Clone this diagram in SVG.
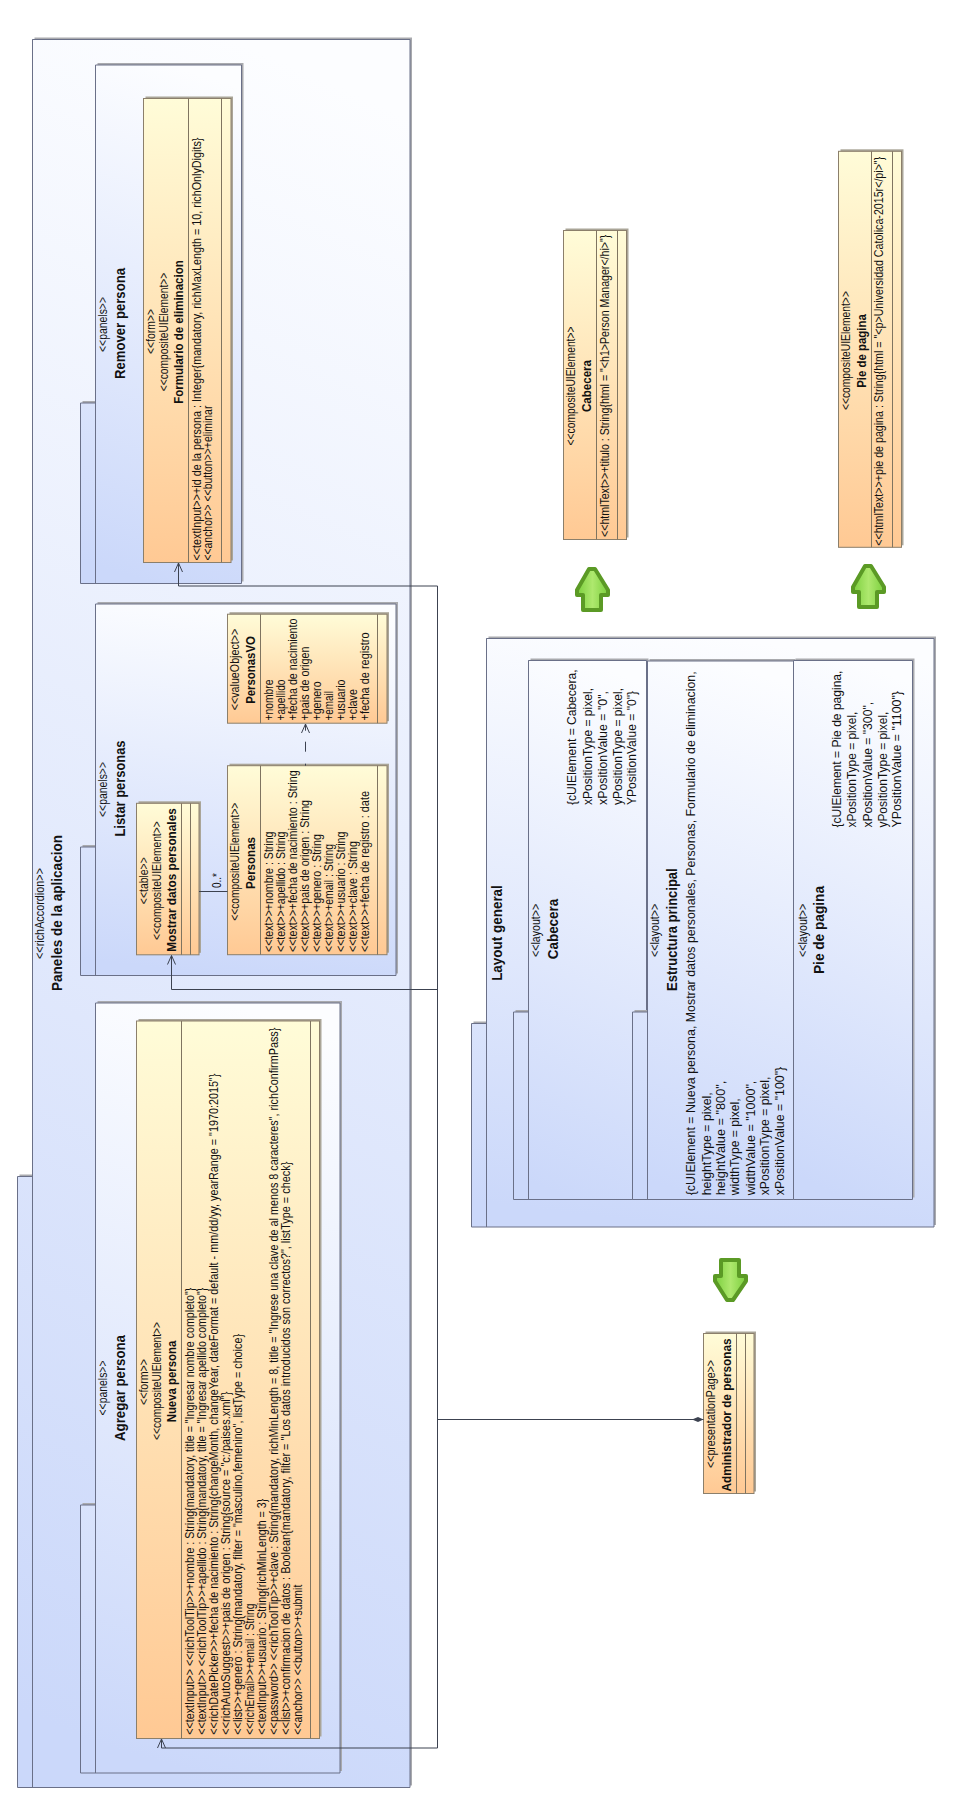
<svg xmlns="http://www.w3.org/2000/svg" width="968" height="1804" viewBox="0 0 968 1804">
<style>
text{font-family:"Liberation Sans",Arial,sans-serif;fill:#111}
.t{font-size:12px}
.m{font-size:12px;text-anchor:middle}
.b{font-size:12.5px;font-weight:bold;text-anchor:middle}
.h{font-size:14px;font-weight:bold;text-anchor:middle}
.l{font-size:13px}
.lm{font-size:12px;text-anchor:middle}
.sh{fill:#a9aaae}
.shc{fill:#aaa598}
.p{fill:url(#pg);stroke:#6a7088;stroke-width:1}
.d{fill:none;stroke:#6a7088;stroke-width:1}
.c{fill:url(#cg);stroke:#8b7f6b;stroke-width:1}
.dc{fill:none;stroke:#7f7460;stroke-width:1}
.g{fill:url(#gg);stroke:#5b9a25;stroke-width:4;stroke-linejoin:round}
.cn{fill:none;stroke:#3c4250;stroke-width:1}
</style>
<defs>
<linearGradient id="pg" x1="0.55" y1="0" x2="0.45" y2="1"><stop offset="0" stop-color="#fcfdff"/><stop offset="1" stop-color="#cbd8fa"/></linearGradient>
<linearGradient id="cg" x1="0" y1="0" x2="0" y2="1"><stop offset="0" stop-color="#fffcd8"/><stop offset="1" stop-color="#ffc994"/></linearGradient>
<linearGradient id="gg" x1="0" y1="0" x2="1" y2="0"><stop offset="0" stop-color="#7ccf3e"/><stop offset="0.5" stop-color="#aee86e"/><stop offset="1" stop-color="#7ccf3e"/></linearGradient>
<marker id="open" markerWidth="12" markerHeight="12" refX="10" refY="5" orient="auto" markerUnits="userSpaceOnUse"><path d="M1 1L10 5L1 9" fill="none" stroke="#3c4250" stroke-width="1"/></marker>
<marker id="dia" markerWidth="14" markerHeight="8" refX="0.5" refY="4" orient="auto" markerUnits="userSpaceOnUse"><path d="M0.5 4L6 1.5L12 4L6 6.5Z" fill="#3c4250"/></marker>
</defs>
<rect width="968" height="1804" fill="#fff"/>

<g id="panel-acordeon">
<path class="sh" transform="translate(2,-2)" d="M32.5 39.5H410V1787.5H17.5V1176.5H32.5Z"/>
<path class="p" d="M32.5 39.5H410V1787.5H17.5V1176.5H32.5Z"/>
<path class="d" d="M32.5 39.5V1787.5"/>
<text class="m" transform="translate(44 913.5) rotate(-90)" textLength="91" lengthAdjust="spacingAndGlyphs">&lt;&lt;richAccordion&gt;&gt;</text>
<text class="h" transform="translate(62 913) rotate(-90)" textLength="156" lengthAdjust="spacingAndGlyphs">Paneles de la aplicacion</text>
</g>

<g id="panel-remover">
<path class="sh" transform="translate(2,-2)" d="M95.5 65H241.5V583.5H80.5V403H95.5Z"/>
<path class="p" d="M95.5 65H241.5V583.5H80.5V403H95.5Z"/>
<path class="d" d="M95.5 65V583.5"/>
<text class="m" transform="translate(107 324.5) rotate(-90)" textLength="55" lengthAdjust="spacingAndGlyphs">&lt;&lt;panels&gt;&gt;</text>
<text class="h" transform="translate(125 323.5) rotate(-90)" textLength="111" lengthAdjust="spacingAndGlyphs">Remover persona</text>
</g>
<g id="class-formulario">
<rect class="shc" x="145.5" y="96.5" width="87.5" height="464"/>
<rect class="c" x="143.5" y="98.5" width="87.5" height="464"/>
<path class="dc" d="M188.5 98.5V562.5M221.5 98.5V562.5"/>
<text class="m" transform="translate(155 331.5) rotate(-90)" textLength="45" lengthAdjust="spacingAndGlyphs">&lt;&lt;form&gt;&gt;</text>
<text class="m" transform="translate(167.5 332) rotate(-90)" textLength="118.6" lengthAdjust="spacingAndGlyphs">&lt;&lt;compositeUIElement&gt;&gt;</text>
<text class="b" transform="translate(183 332) rotate(-90)" textLength="143.5" lengthAdjust="spacingAndGlyphs">Formulario de eliminacion</text>
<text class="t" transform="translate(201 560.6) rotate(-90)" textLength="423" lengthAdjust="spacingAndGlyphs">&lt;&lt;textInput&gt;&gt;+id de la persona : Integer{mandatory, richMaxLength = 10, richOnlyDigits}</text>
<text class="t" transform="translate(212 560.6) rotate(-90)" textLength="155" lengthAdjust="spacingAndGlyphs">&lt;&lt;anchor&gt;&gt; &lt;&lt;button&gt;&gt;+eliminar</text>
</g>

<g id="panel-listar">
<path class="sh" transform="translate(2,-2)" d="M95.5 604H396V975.5H80.5V847H95.5Z"/>
<path class="p" d="M95.5 604H396V975.5H80.5V847H95.5Z"/>
<path class="d" d="M95.5 604V975.5"/>
<text class="m" transform="translate(107 789.5) rotate(-90)" textLength="55" lengthAdjust="spacingAndGlyphs">&lt;&lt;panels&gt;&gt;</text>
<text class="h" transform="translate(125 788.5) rotate(-90)" textLength="96" lengthAdjust="spacingAndGlyphs">Listar personas</text>
</g>
<g id="class-mostrar">
<rect class="shc" x="138.5" y="801.3" width="62.5" height="151.5"/>
<rect class="c" x="136.5" y="803.3" width="62.5" height="151.5"/>
<path class="dc" d="M181.5 803.3V954.8M190.5 803.3V954.8"/>
<text class="m" transform="translate(148 880.7) rotate(-90)" textLength="47" lengthAdjust="spacingAndGlyphs">&lt;&lt;table&gt;&gt;</text>
<text class="m" transform="translate(160.7 880.6) rotate(-90)" textLength="118.6" lengthAdjust="spacingAndGlyphs">&lt;&lt;compositeUIElement&gt;&gt;</text>
<text class="b" transform="translate(176 880) rotate(-90)" textLength="143.5" lengthAdjust="spacingAndGlyphs">Mostrar datos personales</text>
</g>
<g id="class-personas">
<rect class="shc" x="229.5" y="763.7" width="159.5" height="189"/>
<rect class="c" x="227.5" y="765.7" width="159.5" height="189"/>
<path class="dc" d="M260.5 765.7V954.7M377.5 765.7V954.7"/>
<text class="m" transform="translate(239 861.7) rotate(-90)" textLength="118" lengthAdjust="spacingAndGlyphs">&lt;&lt;compositeUIElement&gt;&gt;</text>
<text class="b" transform="translate(255 863) rotate(-90)" textLength="52" lengthAdjust="spacingAndGlyphs">Personas</text>
<text class="t" transform="translate(273.3 952) rotate(-90)" textLength="120.5" lengthAdjust="spacingAndGlyphs">&lt;&lt;text&gt;&gt;+nombre : String</text>
<text class="t" transform="translate(285.3 952) rotate(-90)" textLength="120.5" lengthAdjust="spacingAndGlyphs">&lt;&lt;text&gt;&gt;+apellido : String</text>
<text class="t" transform="translate(297.3 952) rotate(-90)" textLength="181.7" lengthAdjust="spacingAndGlyphs">&lt;&lt;text&gt;&gt;+fecha de nacimiento : String</text>
<text class="t" transform="translate(309.3 952) rotate(-90)" textLength="152" lengthAdjust="spacingAndGlyphs">&lt;&lt;text&gt;&gt;+pais de origen : String</text>
<text class="t" transform="translate(321.3 952) rotate(-90)" textLength="117.8" lengthAdjust="spacingAndGlyphs">&lt;&lt;text&gt;&gt;+genero : String</text>
<text class="t" transform="translate(333.3 952) rotate(-90)" textLength="108" lengthAdjust="spacingAndGlyphs">&lt;&lt;text&gt;&gt;+email : String</text>
<text class="t" transform="translate(345.3 952) rotate(-90)" textLength="120.5" lengthAdjust="spacingAndGlyphs">&lt;&lt;text&gt;&gt;+usuario : String</text>
<text class="t" transform="translate(357.3 952) rotate(-90)" textLength="111" lengthAdjust="spacingAndGlyphs">&lt;&lt;text&gt;&gt;+clave : String</text>
<text class="t" transform="translate(369.3 952) rotate(-90)" textLength="161" lengthAdjust="spacingAndGlyphs">&lt;&lt;text&gt;&gt;+fecha de registro : date</text>
</g>
<g id="class-personasvo">
<rect class="shc" x="229.5" y="612.2" width="159.5" height="109"/>
<rect class="c" x="227.5" y="614.2" width="159.5" height="109"/>
<path class="dc" d="M260.5 614.2V723.2M377.5 614.2V723.2"/>
<text class="m" transform="translate(238.7 669.5) rotate(-90)" textLength="81.5" lengthAdjust="spacingAndGlyphs">&lt;&lt;valueObject&gt;&gt;</text>
<text class="b" transform="translate(255 670) rotate(-90)" textLength="67.7" lengthAdjust="spacingAndGlyphs">PersonasVO</text>
<text class="t" transform="translate(273.3 720.5) rotate(-90)" textLength="41" lengthAdjust="spacingAndGlyphs">+nombre</text>
<text class="t" transform="translate(285.3 720.5) rotate(-90)" textLength="41" lengthAdjust="spacingAndGlyphs">+apellido</text>
<text class="t" transform="translate(297.3 720.5) rotate(-90)" textLength="102" lengthAdjust="spacingAndGlyphs">+fecha de nacimiento</text>
<text class="t" transform="translate(309.3 720.5) rotate(-90)" textLength="74" lengthAdjust="spacingAndGlyphs">+pais de origen</text>
<text class="t" transform="translate(321.3 720.5) rotate(-90)" textLength="39" lengthAdjust="spacingAndGlyphs">+genero</text>
<text class="t" transform="translate(333.3 720.5) rotate(-90)" textLength="29.5" lengthAdjust="spacingAndGlyphs">+email</text>
<text class="t" transform="translate(345.3 720.5) rotate(-90)" textLength="41" lengthAdjust="spacingAndGlyphs">+usuario</text>
<text class="t" transform="translate(357.3 720.5) rotate(-90)" textLength="31.5" lengthAdjust="spacingAndGlyphs">+clave</text>
<text class="t" transform="translate(369.3 720.5) rotate(-90)" textLength="88" lengthAdjust="spacingAndGlyphs">+fecha de registro</text>
</g>

<g id="panel-agregar">
<path class="sh" transform="translate(2,-2)" d="M95.5 1003H340V1773H80.5V1505H95.5Z"/>
<path class="p" d="M95.5 1003H340V1773H80.5V1505H95.5Z"/>
<path class="d" d="M95.5 1003V1773"/>
<text class="m" transform="translate(107 1388) rotate(-90)" textLength="55" lengthAdjust="spacingAndGlyphs">&lt;&lt;panels&gt;&gt;</text>
<text class="h" transform="translate(125 1388) rotate(-90)" textLength="106" lengthAdjust="spacingAndGlyphs">Agregar persona</text>
</g>
<g id="class-nueva">
<rect class="shc" x="138.5" y="1019" width="183" height="717.5"/>
<rect class="c" x="136.5" y="1021" width="183" height="717.5"/>
<path class="dc" d="M181.5 1021V1738.5M310.5 1021V1738.5"/>
<text class="m" transform="translate(147.7 1382) rotate(-90)" textLength="46" lengthAdjust="spacingAndGlyphs">&lt;&lt;form&gt;&gt;</text>
<text class="m" transform="translate(160.7 1381) rotate(-90)" textLength="118" lengthAdjust="spacingAndGlyphs">&lt;&lt;compositeUIElement&gt;&gt;</text>
<text class="b" transform="translate(175.7 1381.5) rotate(-90)" textLength="81.6" lengthAdjust="spacingAndGlyphs">Nueva persona</text>
<text class="t" transform="translate(194 1734.7) rotate(-90)" textLength="447" lengthAdjust="spacingAndGlyphs">&lt;&lt;textInput&gt;&gt; &lt;&lt;richToolTip&gt;&gt;+nombre : String{mandatory, title = "Ingresar nombre completo"}</text>
<text class="t" transform="translate(206 1734.7) rotate(-90)" textLength="447" lengthAdjust="spacingAndGlyphs">&lt;&lt;textInput&gt;&gt; &lt;&lt;richToolTip&gt;&gt;+apellido : String{mandatory, title = "Ingresar apellido completo"}</text>
<text class="t" transform="translate(218 1734.7) rotate(-90)" textLength="661" lengthAdjust="spacingAndGlyphs">&lt;&lt;richDatePicker&gt;&gt;+fecha de nacimiento : String{changeMonth, changeYear, dateFormat = default - mm/dd/yy, yearRange = "1970:2015"}</text>
<text class="t" transform="translate(230 1734.7) rotate(-90)" textLength="343" lengthAdjust="spacingAndGlyphs">&lt;&lt;richAutoSuggest&gt;&gt;+pais de origen : String{source = "c:/paises.xml"}</text>
<text class="t" transform="translate(242 1734.7) rotate(-90)" textLength="400.7" lengthAdjust="spacingAndGlyphs">&lt;&lt;list&gt;&gt;+genero : String{mandatory, filter = "masculino,femenino", listType = choice}</text>
<text class="t" transform="translate(254 1734.7) rotate(-90)" textLength="131" lengthAdjust="spacingAndGlyphs">&lt;&lt;richEmail&gt;&gt;+email : String</text>
<text class="t" transform="translate(266 1734.7) rotate(-90)" textLength="236" lengthAdjust="spacingAndGlyphs">&lt;&lt;textInput&gt;&gt;+usuario : String{richMinLength = 3}</text>
<text class="t" transform="translate(278 1734.7) rotate(-90)" textLength="707" lengthAdjust="spacingAndGlyphs">&lt;&lt;password&gt;&gt; &lt;&lt;richToolTip&gt;&gt;+clave : String{mandatory, richMinLength = 8, title = "Ingrese una clave de al menos 8 caracteres", richConfirmPass}</text>
<text class="t" transform="translate(290 1734.7) rotate(-90)" textLength="573" lengthAdjust="spacingAndGlyphs">&lt;&lt;list&gt;&gt;+confirmacion de datos : Boolean{mandatory, filter = "Los datos introducidos son correctos?", listType = check}</text>
<text class="t" transform="translate(302 1734.7) rotate(-90)" textLength="150" lengthAdjust="spacingAndGlyphs">&lt;&lt;anchor&gt;&gt; &lt;&lt;button&gt;&gt;+submit</text>
</g>

<g id="class-cabecera">
<rect class="shc" x="565.5" y="228.5" width="63" height="309"/>
<rect class="c" x="563.5" y="230.5" width="63" height="309"/>
<path class="dc" d="M596.5 230.5V539.5M617.5 230.5V539.5"/>
<text class="m" transform="translate(574.7 386) rotate(-90)" textLength="119" lengthAdjust="spacingAndGlyphs">&lt;&lt;compositeUIElement&gt;&gt;</text>
<text class="b" transform="translate(591.3 386) rotate(-90)" textLength="52" lengthAdjust="spacingAndGlyphs">Cabecera</text>
<text class="t" transform="translate(609 537) rotate(-90)" textLength="302.3" lengthAdjust="spacingAndGlyphs">&lt;&lt;htmlText&gt;&gt;+titulo : String{html = "&lt;h1&gt;Person Manager&lt;/hi&gt;"}</text>
</g>
<g id="class-pie">
<rect class="shc" x="840.5" y="149.3" width="63" height="396"/>
<rect class="c" x="838.5" y="151.3" width="63" height="396"/>
<path class="dc" d="M871.5 151.3V547.3M892.5 151.3V547.3"/>
<text class="m" transform="translate(850 350.6) rotate(-90)" textLength="119" lengthAdjust="spacingAndGlyphs">&lt;&lt;compositeUIElement&gt;&gt;</text>
<text class="b" transform="translate(865.7 351) rotate(-90)" textLength="73.5" lengthAdjust="spacingAndGlyphs">Pie de pagina</text>
<text class="t" transform="translate(883.3 545.8) rotate(-90)" textLength="389" lengthAdjust="spacingAndGlyphs">&lt;&lt;htmlText&gt;&gt;+pie de pagina : String{html = "&lt;p&gt;Universidad Catolica-2015r&lt;/pi&gt;"}</text>
</g>

<g id="flow-arrows">
<path class="g" d="M589 569H595L608 590V595L601 595V610H583V595L577 595V590Z"/>
<path class="g" d="M865 566H871L884 587V592L877 592V607H859V592L853 592V587Z"/>
<path class="g" d="M721 1260H739V1276L746 1276V1281L733 1300H727L715 1281V1276L721 1276Z"/>
</g>

<g id="panel-layout">
<path class="sh" transform="translate(2,-2)" d="M486.5 638.5H934V1227H471.5V1023.5H486.5Z"/>
<path class="p" d="M486.5 638.5H934V1227H471.5V1023.5H486.5Z"/>
<path class="d" d="M486.5 638.5V1227"/>
<text class="h" transform="translate(501.7 933) rotate(-90)" textLength="95.7" lengthAdjust="spacingAndGlyphs">Layout general</text>
</g>
<g id="layout-cabecera">
<path class="sh" transform="translate(2,-2)" d="M528.5 660.5H646.5V1199.5H513.5V1012H528.5Z"/>
<path class="p" d="M528.5 660.5H646.5V1199.5H513.5V1012H528.5Z"/>
<path class="d" d="M528.5 660.5V1199.5"/>
<text class="lm" transform="translate(540 930.4) rotate(-90)" textLength="53" lengthAdjust="spacingAndGlyphs">&lt;&lt;layout&gt;&gt;</text>
<text class="h" transform="translate(558.3 929) rotate(-90)" textLength="60.5" lengthAdjust="spacingAndGlyphs">Cabecera</text>
<text class="l" transform="translate(575.7 805) rotate(-90)" textLength="135.6" lengthAdjust="spacingAndGlyphs">{cUIElement = Cabecera,</text>
<text class="l" transform="translate(591.7 805) rotate(-90)" textLength="117" lengthAdjust="spacingAndGlyphs">xPositionType = pixel,</text>
<text class="l" transform="translate(606.7 805) rotate(-90)" textLength="114" lengthAdjust="spacingAndGlyphs">xPositionValue = "0",</text>
<text class="l" transform="translate(621.7 805) rotate(-90)" textLength="117" lengthAdjust="spacingAndGlyphs">yPositionType = pixel,</text>
<text class="l" transform="translate(635.7 805) rotate(-90)" textLength="114" lengthAdjust="spacingAndGlyphs">YPositionValue = "0"}</text>
</g>
<g id="layout-estructura">
<path class="sh" transform="translate(2,-2)" d="M647.5 661H793.5V1199.5H632.5V1012H647.5Z"/>
<path class="p" d="M647.5 661H793.5V1199.5H632.5V1012H647.5Z"/>
<path class="d" d="M647.5 661V1199.5"/>
<text class="lm" transform="translate(659.3 930.4) rotate(-90)" textLength="53" lengthAdjust="spacingAndGlyphs">&lt;&lt;layout&gt;&gt;</text>
<text class="h" transform="translate(676.7 929.6) rotate(-90)" textLength="122.6" lengthAdjust="spacingAndGlyphs">Estructura principal</text>
<text class="l" transform="translate(695 1195.3) rotate(-90)" textLength="524" lengthAdjust="spacingAndGlyphs">{cUIElement = Nueva persona, Mostrar datos personales, Personas, Formulario de eliminacion,</text>
<text class="l" transform="translate(710.7 1195.3) rotate(-90)" textLength="103" lengthAdjust="spacingAndGlyphs">heightType = pixel,</text>
<text class="l" transform="translate(725 1195.3) rotate(-90)" textLength="114.6" lengthAdjust="spacingAndGlyphs">heightValue = "800",</text>
<text class="l" transform="translate(739 1195.3) rotate(-90)" textLength="97" lengthAdjust="spacingAndGlyphs">widthType = pixel,</text>
<text class="l" transform="translate(755 1195.3) rotate(-90)" textLength="114.6" lengthAdjust="spacingAndGlyphs">widthValue = "1000",</text>
<text class="l" transform="translate(769.3 1195.3) rotate(-90)" textLength="118.6" lengthAdjust="spacingAndGlyphs">xPositionType = pixel,</text>
<text class="l" transform="translate(784 1195.3) rotate(-90)" textLength="128.5" lengthAdjust="spacingAndGlyphs">xPositionValue = "100"}</text>
</g>
<g id="layout-pie">
<path class="sh" transform="translate(2,-2)" d="M793.5 660.5H912.5V1199.5H793.5Z"/>
<path class="p" d="M793.5 660.5H912.5V1199.5H793.5Z"/>
<text class="lm" transform="translate(806.7 930.4) rotate(-90)" textLength="53" lengthAdjust="spacingAndGlyphs">&lt;&lt;layout&gt;&gt;</text>
<text class="h" transform="translate(824 930) rotate(-90)" textLength="88" lengthAdjust="spacingAndGlyphs">Pie de pagina</text>
<text class="l" transform="translate(841 827.6) rotate(-90)" textLength="157" lengthAdjust="spacingAndGlyphs">{cUIElement = Pie de pagina,</text>
<text class="l" transform="translate(855.7 827.6) rotate(-90)" textLength="116" lengthAdjust="spacingAndGlyphs">xPositionType = pixel,</text>
<text class="l" transform="translate(871.7 827.6) rotate(-90)" textLength="125.7" lengthAdjust="spacingAndGlyphs">xPositionValue = "300",</text>
<text class="l" transform="translate(886.7 827.6) rotate(-90)" textLength="116" lengthAdjust="spacingAndGlyphs">yPositionType = pixel,</text>
<text class="l" transform="translate(900.7 827.6) rotate(-90)" textLength="136.6" lengthAdjust="spacingAndGlyphs">YPositionValue = "1100"}</text>
</g>

<g id="class-admin">
<rect class="shc" x="705.5" y="1331.5" width="50.5" height="160"/>
<rect class="c" x="703.5" y="1333.5" width="50.5" height="160"/>
<path class="dc" d="M736.5 1333.5V1493.5M745.5 1333.5V1493.5"/>
<text class="m" transform="translate(715 1414) rotate(-90)" textLength="108" lengthAdjust="spacingAndGlyphs">&lt;&lt;presentationPage&gt;&gt;</text>
<text class="b" transform="translate(731 1415) rotate(-90)" textLength="153" lengthAdjust="spacingAndGlyphs">Administrador de personas</text>
</g>

<g id="connectors">
<path class="cn" d="M437.5 586V1748"/>
<path class="cn" d="M437.5 586H178.5V563" marker-end="url(#open)"/>
<path class="cn" d="M437.5 989.5H171.5V955.5" marker-end="url(#open)"/>
<path class="cn" d="M437.5 1748H161.5V1739" marker-end="url(#open)"/>
<path class="cn" d="M703.5 1419.5H437.5" marker-start="url(#dia)"/>
<path class="cn" d="M199 891.5H227.5"/>
<path class="cn" d="M305.5 765.7V724" stroke-dasharray="2 12 10 11 12" marker-end="url(#open)"/>
<text class="t" transform="translate(220.7 888) rotate(-90)" textLength="15" lengthAdjust="spacingAndGlyphs">0..*</text>
</g>
</svg>
